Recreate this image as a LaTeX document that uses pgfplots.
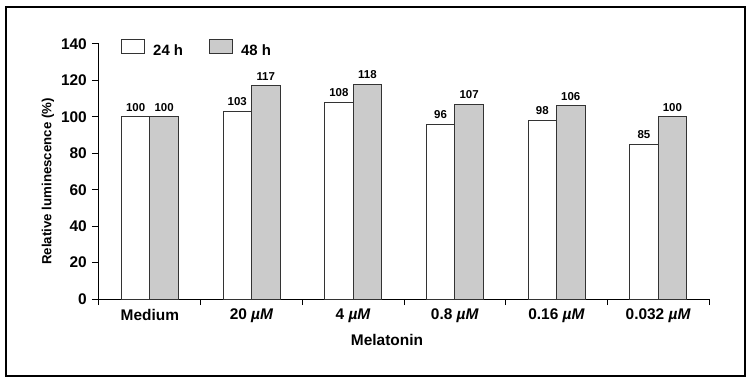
\documentclass[border=0pt]{standalone}
\usepackage{pgfplots}
\pgfplotsset{compat=1.18}
\usepackage{fontspec}
\setmainfont{Liberation Sans}
\definecolor{bargray}{HTML}{CBCBCB}
\definecolor{edge}{HTML}{333333}
\begin{document}
\begin{tikzpicture}
\begin{axis}[
  scale only axis,
  width=610bp, height=255bp,
  ybar=0pt, bar width=28.5bp,
  xmin=-0.5, xmax=5.5,
  ymin=0, ymax=140,
  ytick={0,20,...,140},
  xtick={0,1,2,3,4,5},
  xticklabels={Medium, 20 \textit{µM}, 4 \textit{µM}, 0.8 \textit{µM}, 0.16 \textit{µM}, 0.032 \textit{µM}},
  minor xtick={-0.5,0.5,...,5.5},
  major x tick style={draw=none},
  minor tick length=6bp,
  major tick length=7bp,
  tick align=outside,
  axis x line*=bottom, axis y line*=left,
  axis line style={line width=1bp, -},
  every tick/.style={black, line width=1bp},
  /pgf/number format/assume math mode=true,
  ticklabel style={font=\fontsize{15.5}{17}\selectfont\bfseries},
  xticklabel style={inner sep=0pt, anchor=north, yshift=-3bp},
  yticklabel style={inner sep=0pt, anchor=east, xshift=-5bp},
  xlabel={Melatonin},
  xlabel style={font=\fontsize{15.5}{17}\selectfont\bfseries, at={(axis description cs:0.5,0)}, anchor=center, xshift=-17bp, yshift=-41bp},
  ylabel={Relative luminescence (\%)},
  ylabel style={font=\fontsize{13.3}{15}\selectfont\bfseries, at={(axis description cs:0,0.5)}, anchor=center, xshift=-10bp, yshift=51bp},
  nodes near coords,
  nodes near coords style={font=\fontsize{11.5}{13}\selectfont\bfseries, anchor=south, inner sep=0pt, yshift=5bp},
  legend columns=2,
  legend style={draw=none, fill=none, at={(axis description cs:0,1)}, anchor=north west, xshift=22bp, yshift=5bp,
    inner sep=0pt, nodes={inner sep=0pt, font=\fontsize{15}{17}\selectfont\bfseries},
    /tikz/every odd column/.append style={column sep=8bp},
    /tikz/every even column/.append style={column sep=26bp}},
  clip=false,
]
\addplot[draw=edge, line width=1bp, fill=white,
  legend image code/.code={\draw[draw=edge, line width=1bp, fill=white] (0bp,-3bp) rectangle (23bp,11bp);}]
  coordinates {(0,100) (1,103) (2,108) (3,96) (4,98) (5,85)};
\addplot[draw=edge, line width=1bp, fill=bargray,
  legend image code/.code={\draw[draw=edge, line width=1bp, fill=bargray] (0bp,-3bp) rectangle (23bp,11bp);}]
  coordinates {(0,100) (1,117) (2,118) (3,107) (4,106) (5,100)};
\legend{24 h, 48 h}
\end{axis}
\draw[line width=2bp] (-93bp,-77bp) rectangle (646bp,292bp);
\pgfresetboundingbox
\path[use as bounding box] (-99bp,-84bp) rectangle (653bp,299bp);
\end{tikzpicture}
\end{document}
